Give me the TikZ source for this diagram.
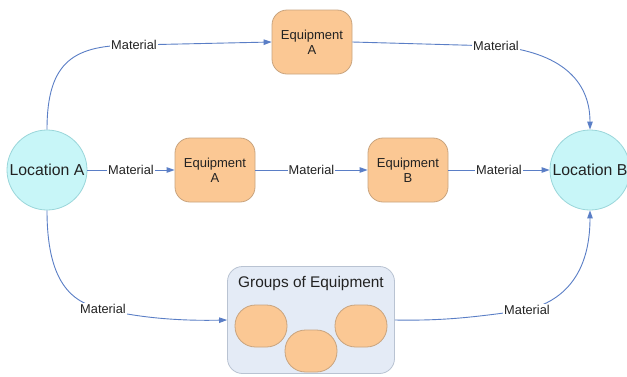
\documentclass[tikz,border=0pt]{standalone}
\usepackage{fontspec}
\setmainfont{Liberation Sans}
\usetikzlibrary{arrows.meta}
\definecolor{cyanfill}{HTML}{C8F6F8}
\definecolor{cyanline}{HTML}{9AD6DA}
\definecolor{orfill}{HTML}{FBC894}
\definecolor{orline}{HTML}{C9A47E}
\definecolor{grpfill}{HTML}{E4EBF6}
\definecolor{grpline}{HTML}{B9C3D2}
\definecolor{arrcol}{HTML}{5A7EC6}
\definecolor{txt}{HTML}{222222}
\tikzset{
  loc/.style={circle,draw=cyanline,fill=cyanfill,line width=0.8pt,minimum size=80pt,inner sep=0pt,font=\fontsize{15.8}{18}\selectfont,text=txt},
  equip/.style={rectangle,rounded corners=15pt,draw=orline,fill=orfill,line width=0.8pt,minimum width=80pt,minimum height=64pt,align=center,font=\fontsize{13}{15}\selectfont,text=txt,inner sep=0pt},
  blob/.style={rectangle,rounded corners=20.5pt,draw=orline,fill=orfill,line width=0.8pt,minimum width=52pt,minimum height=42pt,inner sep=0pt},
  grp/.style={rectangle,rounded corners=15pt,draw=grpline,fill=grpfill,line width=0.8pt,minimum width=167pt,minimum height=107pt,inner sep=0pt},
  lbl/.style={fill=white,inner sep=1pt,font=\fontsize{12.8}{15}\selectfont,text=txt},
  arr/.style={draw=arrcol,line width=0.9pt,-{Triangle[length=8pt,width=5.5pt]}}
}
\begin{document}
\begin{tikzpicture}[x=1pt,y=-1pt]
\useasboundingbox[fill=white] (0,0) rectangle (627,376);
\node[loc] (la) at (47,170) {Location A};
\node[loc] (lb) at (590,170) {Location B};
\node[equip] (eqt) at (312,42) {Equipment\\A};
\node[equip] (eqa) at (215,170) {Equipment\\A};
\node[equip] (eqb) at (408,170) {Equipment\\B};
\node[grp] (grp) at (311,320) {};
\node[anchor=north,font=\fontsize{15.4}{18}\selectfont,text=txt] (grpt) at (311,273) {Groups of Equipment};
\node[blob] (b1) at (261,326) {};
\node[blob] (b3) at (361,326) {};
\node[blob] (b2) at (311,351) {};
% top
\draw[arr] (la.north) .. controls (47,60) and (75,45) .. (134,45) node[lbl] (l1) {Material} -- (eqt.west);
\draw[arr] (eqt.east) -- (496,46) node[lbl] (l2) {Material} .. controls (560,52) and (590,80) .. (lb.north);
% middle
\draw[arr] (la.east) -- (eqa.west) node[lbl,pos=0.5] (l3) {Material};
\draw[arr] (eqa.east) -- (eqb.west) node[lbl,pos=0.5] (l4) {Material};
\draw[arr] (eqb.east) -- (lb.west) node[lbl,pos=0.5] (l5) {Material};
% bottom
\draw[arr] (la.south) .. controls (47,280) and (70,303) .. (103,309) node[lbl] (l6) {Material} .. controls (140,318) and (180,321) .. (grp.west);
\draw[arr] (grp.east) .. controls (450,321) and (480,316) .. (527,310) node[lbl] (l7) {Material} .. controls (575,298) and (590,260) .. (lb.south);
\end{tikzpicture}
\end{document}
